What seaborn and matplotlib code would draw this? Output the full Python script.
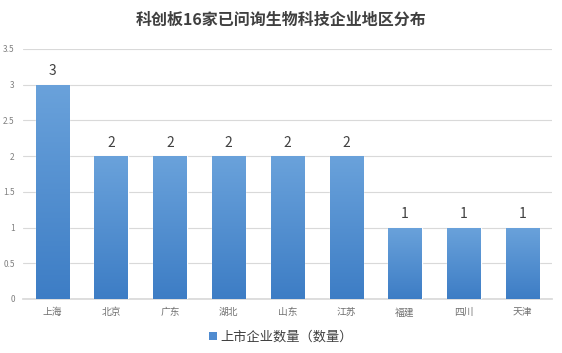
import matplotlib
matplotlib.use("Agg")
import matplotlib.pyplot as plt
import seaborn as sns
import pandas as pd
import numpy as np
from matplotlib.patches import Patch
from matplotlib.colors import LinearSegmentedColormap

regions = ["上海", "北京", "广东", "湖北", "山东", "江苏", "福建", "四川", "天津"]
counts = [3, 2, 2, 2, 2, 2, 1, 1, 1]
series_name = "上市企业数量（数量）"
title = "科创板16家已问询生物科技企业地区分布"
yticks = [0, 0.5, 1, 1.5, 2, 2.5, 3, 3.5]

sns.set_theme(style="white")
plt.rcParams['font.family'] = ['Noto Sans CJK SC', 'DejaVu Sans']

df = pd.DataFrame({"region": regions, "count": counts})

fig = plt.figure(figsize=(5.62, 3.53), dpi=100)
ax = fig.add_axes([23/562, 1 - 299/353, (552-23)/562, 250/353])

bar_color = "#4a88cf"
sns.barplot(data=df, x="region", y="count", color=bar_color, width=0.57,
            saturation=1, ax=ax, zorder=3)

cmap = LinearSegmentedColormap.from_list("g", ["#3d7dc5", "#6aa2db"])
grad = np.linspace(0, 1, 256).reshape(-1, 1)
for p in ax.patches:
    x0, y0 = p.get_x(), p.get_y()
    w, h = p.get_width(), p.get_height()
    im = ax.imshow(grad, extent=[x0, x0 + w, y0, y0 + h], origin="lower",
                   cmap=cmap, aspect="auto", zorder=4)
    im.set_clip_path(p)

ax.set_xlim(-0.5, len(regions) - 0.5)
ax.set_ylim(0, 3.5)
ax.set_yticks(yticks)
ax.set_yticklabels([f"{t:g}" for t in yticks], fontsize=6, color="#808080")
ax.tick_params(axis="x", labelsize=7, colors="#707070", length=0, pad=6)
ax.tick_params(axis="y", length=0, pad=6)
ax.yaxis.grid(True, color="#d9d9d9", linewidth=0.8, zorder=0)
ax.set_axisbelow(True)
ax.set_xlabel("")
ax.set_ylabel("")
for s in ["top", "right", "left"]:
    ax.spines[s].set_visible(False)
ax.spines["bottom"].set_color("#d9d9d9")

for i, v in enumerate(counts):
    ax.text(i, v + 0.09, f"{v}", ha="center", va="bottom", fontsize=10, color="#404040",
            zorder=5)

fig.text(0.5, 1 - 20/353, title, ha="center", va="center", fontsize=11.5,
         fontweight="bold", color="#404040")

handles = [Patch(facecolor="#4f8bd0", edgecolor="none", label=series_name)]
fig.legend(handles=handles, loc="center", bbox_to_anchor=(0.5, 1 - 337/353),
           frameon=False, fontsize=9.5, handlelength=0.6, handleheight=0.6,
           handletextpad=0.3, labelcolor="#404040")

fig.savefig("out.png", dpi=100)
